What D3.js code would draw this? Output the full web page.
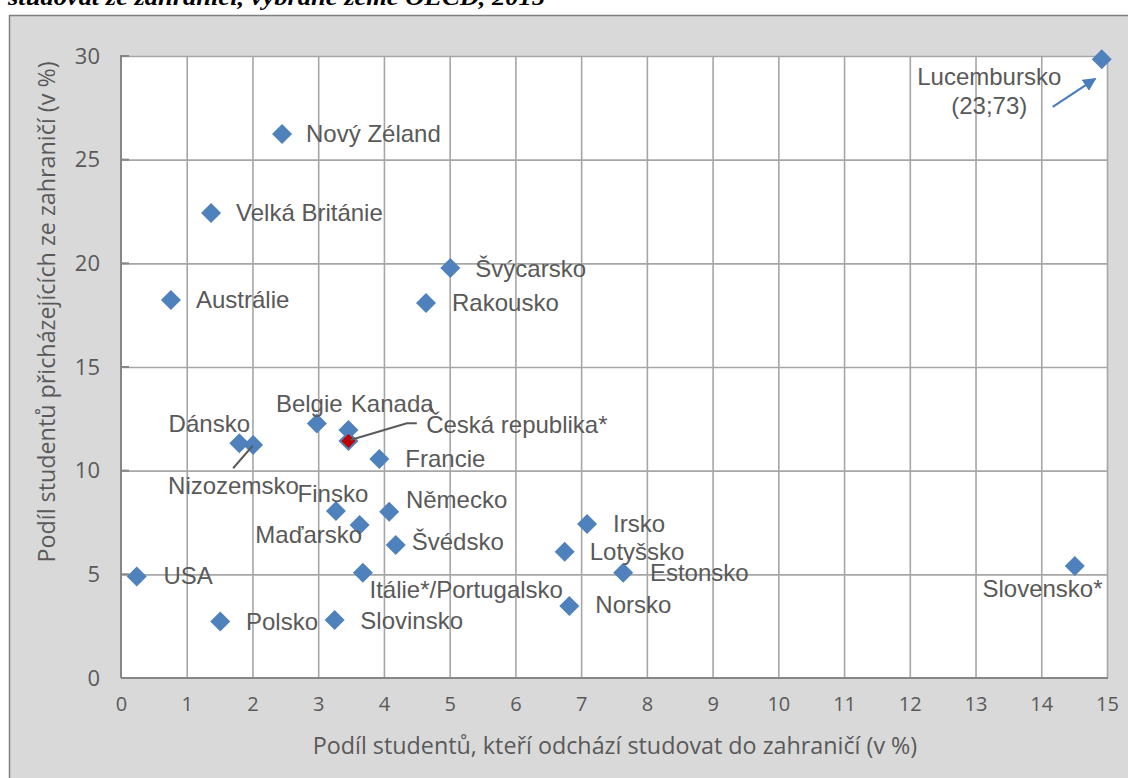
<!DOCTYPE html>
<html>
<head>
<meta charset="utf-8">
<script src="https://cdn.jsdelivr.net/npm/d3@7"></script>
<style>
  html, body { margin: 0; padding: 0; background: #ffffff; }
  svg { display: block; }
</style>
</head>
<body>
<svg id="chart" width="1128" height="778"></svg>
<script>
// Countries and their shares (in %): students leaving to study abroad (x) and incoming foreign students (y)
const countries = [
  "Lucembursko", "Nový Zéland", "Velká Británie", "Austrálie", "Švýcarsko", "Rakousko",
  "Belgie", "Kanada", "Dánsko", "Nizozemsko", "Francie", "Finsko", "Německo",
  "Maďarsko", "Švédsko", "Itálie*/Portugalsko", "USA", "Polsko", "Slovinsko",
  "Irsko", "Lotyšsko", "Estonsko", "Norsko", "Slovensko*", "Česká republika*"
];
const outgoing = [
  14.92, 2.45, 1.37, 0.76, 5.01, 4.64,
  2.98, 3.46, 1.80, 2.01, 3.93, 3.27, 4.08,
  3.63, 4.18, 3.68, 0.24, 1.51, 3.25,
  7.09, 6.75, 7.64, 6.82, 14.51, 3.46
];
const incoming = [
  29.84, 26.24, 22.43, 18.23, 19.78, 18.09,
  12.28, 11.96, 11.32, 11.24, 10.56, 8.05, 8.02,
  7.38, 6.41, 5.08, 4.89, 2.72, 2.80,
  7.43, 6.09, 5.08, 3.47, 5.40, 11.43
];
const highlighted = "Česká republika*";
const xTicks = d3.range(0, 16, 1);
const yTicks = d3.range(0, 31, 5);
const titleText = "studovat ze zahraničí, vybrané země OECD, 2015";
const xTitle = "Podíl studentů, kteří odchází studovat do zahraničí (v %)";
const yTitle = "Podíl studentů přicházejících ze zahraničí (v %)";
const luxNote = ["Lucembursko", "(23;73)"];

// Label placement relative to each marker (pixels, text baseline)
const labelLayout = {
  "Nový Zéland":        { dx: 24,   dy: 8 },
  "Velká Británie":     { dx: 25,   dy: 8 },
  "Austrálie":          { dx: 25,   dy: 8 },
  "Švýcarsko":          { dx: 25,   dy: 9 },
  "Rakousko":           { dx: 26,   dy: 8 },
  "Belgie":             { dx: -41,  dy: -11.6 },
  "Kanada":             { dx: 2.4,  dy: -18.3 },
  "Dánsko":             { dx: -70.7, dy: -11 },
  "Nizozemsko":         { dx: -85,  dy: 49.3 },
  "Francie":            { dx: 26,   dy: 7.7 },
  "Finsko":             { dx: -38.4, dy: -9.3 },
  "Německo":            { dx: 16.7, dy: -3.4 },
  "Maďarsko":           { dx: -104.3, dy: 17.7 },
  "Švédsko":            { dx: 16,   dy: 5 },
  "Itálie*/Portugalsko":{ dx: 6.6,  dy: 25.6 },
  "USA":                { dx: 26.6, dy: 7.3 },
  "Polsko":             { dx: 25.7, dy: 8.3 },
  "Slovinsko":          { dx: 25.7, dy: 9.3 },
  "Irsko":              { dx: 26,   dy: 8.3 },
  "Lotyšsko":           { dx: 25,   dy: 8.3 },
  "Estonsko":           { dx: 26.7, dy: 8.3 },
  "Norsko":             { dx: 26,   dy: 7.3 },
  "Slovensko*":         { dx: -92.3, dy: 30.7 },
  "Česká republika*":   { dx: 77.7, dy: -7.7 }
};

const svg = d3.select("#chart");
const W = 1128, H = 778;
const plot = { left: 121, right: 1107, top: 56, bottom: 678 };

const x = d3.scaleLinear().domain([0, 15]).range([plot.left, plot.right]);
const y = d3.scaleLinear().domain([0, 30]).range([plot.bottom, plot.top]);

const textGrey = "#595959";
const markerBlue = "#4f81bd";

// Heading line above the chart frame (its upper part runs off the page)
svg.append("text")
  .attr("x", 8).attr("y", 5)
  .attr("font-family", "Liberation Serif, serif")
  .attr("font-style", "italic").attr("font-weight", "bold")
  .attr("font-size", 24)
  .attr("textLength", 537).attr("lengthAdjust", "spacingAndGlyphs")
  .attr("fill", "#000")
  .text(titleText);

// Chart frame
svg.append("rect")
  .attr("x", 9.5).attr("y", 15.5)
  .attr("width", W).attr("height", H)
  .attr("fill", "#d9d9d9").attr("stroke", "#808080").attr("stroke-width", 1.5);

// Plot area
svg.append("rect")
  .attr("x", plot.left).attr("y", plot.top)
  .attr("width", plot.right - plot.left).attr("height", plot.bottom - plot.top)
  .attr("fill", "#ffffff");

// Gridlines
const gridV = svg.append("g")
  .attr("transform", `translate(0,${plot.bottom})`)
  .call(d3.axisBottom(x).tickValues(xTicks.filter(d => d > 0)).tickSize(-(plot.bottom - plot.top)).tickFormat(""));
gridV.select(".domain").remove();
gridV.selectAll("line").attr("stroke", "#a6a6a6").attr("stroke-width", 1.6);

const gridH = svg.append("g")
  .attr("transform", `translate(${plot.left},0)`)
  .call(d3.axisLeft(y).tickValues(yTicks.filter(d => d > 0)).tickSize(-(plot.right - plot.left)).tickFormat(""));
gridH.select(".domain").remove();
gridH.selectAll("line").attr("stroke", "#a6a6a6").attr("stroke-width", 1.6);

// Axis lines
svg.append("line")
  .attr("x1", plot.left).attr("x2", plot.left)
  .attr("y1", plot.top - 1).attr("y2", plot.bottom)
  .attr("stroke", "#868686").attr("stroke-width", 2);
svg.append("line")
  .attr("x1", plot.left).attr("x2", plot.right + 1)
  .attr("y1", plot.bottom).attr("y2", plot.bottom)
  .attr("stroke", "#868686").attr("stroke-width", 2);

// Inner tick marks on the y axis
svg.append("g").selectAll("line").data(yTicks.filter(d => d > 0)).join("line")
  .attr("x1", plot.left).attr("x2", plot.left + 8)
  .attr("y1", d => y(d)).attr("y2", d => y(d))
  .attr("stroke", "#868686").attr("stroke-width", 2);

// Tick labels
const xAxis = svg.append("g")
  .attr("transform", `translate(0,${plot.bottom})`)
  .call(d3.axisBottom(x).tickValues(xTicks).tickSize(0).tickPadding(19).tickFormat(d3.format("d")));
xAxis.select(".domain").remove();
xAxis.selectAll("text")
  .attr("font-family", "Open Sans, sans-serif").attr("font-size", 20).attr("fill", textGrey);

const yAxis = svg.append("g")
  .attr("transform", `translate(${plot.left},0)`)
  .call(d3.axisLeft(y).tickValues(yTicks).tickSize(0).tickPadding(21).tickFormat(d3.format("d")));
yAxis.select(".domain").remove();
yAxis.selectAll("text")
  .attr("font-family", "Open Sans, sans-serif").attr("font-size", 22).attr("fill", textGrey);

// Axis titles
svg.append("text")
  .attr("x", 615).attr("y", 754)
  .attr("text-anchor", "middle")
  .attr("font-family", "Open Sans, sans-serif").attr("font-size", 23.3).attr("fill", textGrey)
  .text(xTitle);
svg.append("text")
  .attr("transform", "translate(55,312) rotate(-90)")
  .attr("text-anchor", "middle")
  .attr("font-family", "Open Sans, sans-serif").attr("font-size", 23.3).attr("fill", textGrey)
  .text(yTitle);

// Points
const points = countries.map((c, i) => ({ name: c, vx: outgoing[i], vy: incoming[i] }));
const diamond = d3.symbol().type(d3.symbolSquare).size(200);
const diamondSmall = d3.symbol().type(d3.symbolSquare).size(100);

svg.append("g").selectAll("path").data(points).join("path")
  .attr("d", diamond)
  .attr("transform", d => `translate(${x(d.vx)},${y(d.vy)}) rotate(45)`)
  .attr("fill", markerBlue);

svg.append("g").selectAll("path").data(points.filter(d => d.name === highlighted)).join("path")
  .attr("d", diamondSmall)
  .attr("transform", d => `translate(${x(d.vx)},${y(d.vy)}) rotate(45)`)
  .attr("fill", "#c00000");

// Leader lines
const byName = Object.fromEntries(points.map(d => [d.name, d]));
function rel(name, pts) {
  const p = byName[name];
  return pts.map(([dx, dy]) => [x(p.vx) + dx, y(p.vy) + dy]);
}
const line = d3.line();
svg.append("path")
  .attr("d", line(rel("Česká republika*", [[2, -1], [58.4, -17.7], [68.4, -17.7]])))
  .attr("fill", "none").attr("stroke", textGrey).attr("stroke-width", 2);
svg.append("path")
  .attr("d", line(rel("Nizozemsko", [[-20, 23.3], [-0.6, 1]])))
  .attr("fill", "none").attr("stroke", textGrey).attr("stroke-width", 2);
svg.append("path")
  .attr("d", line(rel("Kanada", [[80.7, -26], [84.7, -18]])))
  .attr("fill", "none").attr("stroke", textGrey).attr("stroke-width", 2);

// Point labels
svg.append("g").selectAll("text")
  .data(points.filter(d => labelLayout[d.name]))
  .join("text")
  .attr("x", d => x(d.vx) + labelLayout[d.name].dx)
  .attr("y", d => y(d.vy) + labelLayout[d.name].dy)
  .attr("font-family", "Liberation Sans, Arial, sans-serif")
  .attr("font-size", 24)
  .attr("fill", textGrey)
  .text(d => d.name);

// Luxembourg note with arrow (its true value lies outside the axis range)
const lux = byName["Lucembursko"];
svg.append("text")
  .attr("x", x(lux.vx) - 112.5).attr("y", y(lux.vy) + 25.7)
  .attr("text-anchor", "middle")
  .attr("font-family", "Liberation Sans, Arial, sans-serif").attr("font-size", 24).attr("fill", textGrey)
  .text(luxNote[0]);
svg.append("text")
  .attr("x", x(lux.vx) - 112.5).attr("y", y(lux.vy) + 54.7)
  .attr("text-anchor", "middle")
  .attr("font-family", "Liberation Sans, Arial, sans-serif").attr("font-size", 24).attr("fill", textGrey)
  .text(luxNote[1]);

svg.append("defs").append("marker")
  .attr("id", "arrowHead")
  .attr("viewBox", "0 0 10 10")
  .attr("refX", 9).attr("refY", 5)
  .attr("markerWidth", 6).attr("markerHeight", 6)
  .attr("markerUnits", "strokeWidth")
  .attr("orient", "auto")
  .append("path").attr("d", "M0,0 L10,5 L0,10 Z").attr("fill", "#4a7ebb");

const [a0, a1] = rel("Lucembursko", [[-49, 47.5], [-6.5, 19.5]]);
svg.append("line")
  .attr("x1", a0[0]).attr("y1", a0[1]).attr("x2", a1[0]).attr("y2", a1[1])
  .attr("stroke", "#4a7ebb").attr("stroke-width", 2.2)
  .attr("marker-end", "url(#arrowHead)");
</script>
</body>
</html>
